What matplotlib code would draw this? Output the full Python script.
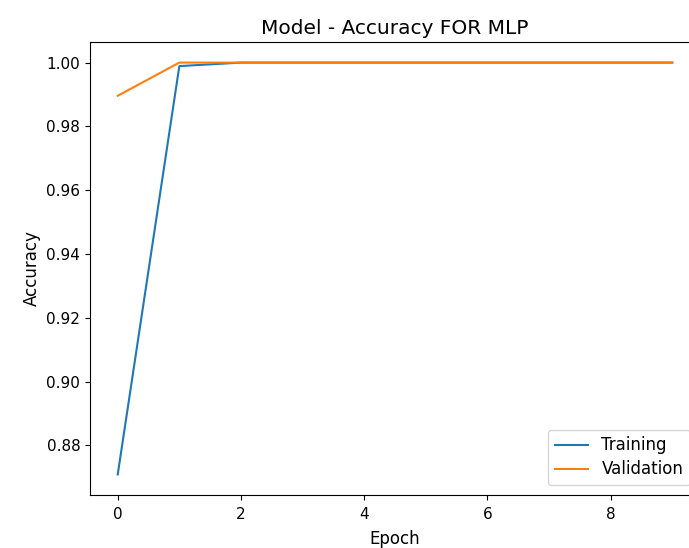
import matplotlib
matplotlib.use("Agg")
import matplotlib.pyplot as plt

# accuracy history per epoch
epochs = [0, 1, 2, 3, 4, 5, 6, 7, 8, 9]
train_acc = [0.8709, 0.9989, 1.0, 1.0, 1.0, 1.0, 1.0, 1.0, 1.0, 1.0]
val_acc = [0.9896, 1.0, 1.0, 1.0, 1.0, 1.0, 1.0, 1.0, 1.0, 1.0]

plt.rcParams.update({'font.size': 12})
fig = plt.figure(figsize=(6.89, 5.48), dpi=100)
ax = fig.add_axes([90 / 689, 53 / 548, 610 / 689, 453 / 548])

ax.plot(epochs, train_acc, label='Training')
ax.plot(epochs, val_acc, label='Validation')
ax.set_title('Model - Accuracy FOR MLP', fontsize=14.5)
ax.set_ylabel('Accuracy', fontsize=12)
ax.set_xlabel('Epoch', fontsize=12, labelpad=6)
ax.tick_params(labelsize=11)
ax.tick_params(axis='x', pad=5)
ax.legend(loc='lower right', fontsize=12, borderaxespad=0.6, labelspacing=0.35)

fig.savefig('out.png', dpi=100)
